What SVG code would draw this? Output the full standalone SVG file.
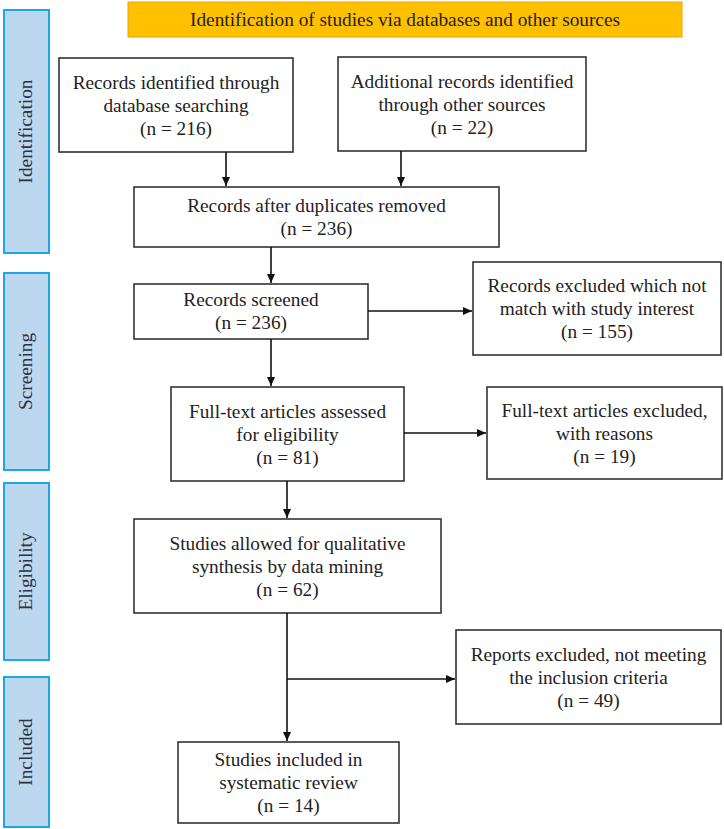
<svg xmlns="http://www.w3.org/2000/svg" width="724" height="829" viewBox="0 0 724 829">
<defs>
<style>
.box{fill:#fff;stroke:#333;stroke-width:1.6}
.side{fill:#BDD7EE;stroke:#1CA6EC;stroke-width:2}
.t{font-family:"Liberation Serif","Times New Roman",serif;font-size:19.3px;fill:#222;text-anchor:middle}
.st{font-family:"Liberation Serif","Times New Roman",serif;font-size:19.3px;fill:#2a3346;text-anchor:middle}
.c{stroke:#111;stroke-width:1.6;fill:none}
</style>
<marker id="ah" markerWidth="10" markerHeight="10" refX="9" refY="5" orient="auto" markerUnits="userSpaceOnUse">
<path d="M0,1 L9,5 L0,9 Z" fill="#111"/>
</marker>
</defs>
<rect width="724" height="829" fill="#fff"/>

<g id="banner">
<rect x="128" y="2" width="554" height="35" fill="#FFC000" stroke="#F0A500" stroke-width="1"/>
<text class="t" x="405" y="26">Identification of studies via databases and other sources</text>
</g>

<g id="side-identification">
<rect class="side" x="4" y="10" width="45" height="243"/>
<text class="st" transform="translate(32,131.5) rotate(-90)">Identification</text>
</g>
<g id="side-screening">
<rect class="side" x="4" y="273" width="45" height="197"/>
<text class="st" transform="translate(32,371.5) rotate(-90)">Screening</text>
</g>
<g id="side-eligibility">
<rect class="side" x="4" y="483" width="45" height="177"/>
<text class="st" transform="translate(32,571.5) rotate(-90)">Eligibility</text>
</g>
<g id="side-included">
<rect class="side" x="4" y="677" width="45" height="150"/>
<text class="st" transform="translate(32,752) rotate(-90)">Included</text>
</g>

<g id="n1">
<rect class="box" x="59" y="58" width="234" height="94"/>
<text class="t" x="176" y="88.5">Records identified through</text>
<text class="t" x="176" y="111.5">database searching</text>
<text class="t" x="176" y="134.5">(n = 216)</text>
</g>
<g id="n2">
<rect class="box" x="338" y="57" width="248" height="94"/>
<text class="t" x="462" y="87.5">Additional records identified</text>
<text class="t" x="462" y="110.5">through other sources</text>
<text class="t" x="462" y="133.5">(n = 22)</text>
</g>
<g id="n3">
<rect class="box" x="134" y="187" width="365" height="60"/>
<text class="t" x="316.5" y="212">Records after duplicates removed</text>
<text class="t" x="316.5" y="235">(n = 236)</text>
</g>
<g id="n4">
<rect class="box" x="134" y="284" width="234" height="55"/>
<text class="t" x="251" y="306">Records screened</text>
<text class="t" x="251" y="329">(n = 236)</text>
</g>
<g id="n5">
<rect class="box" x="473" y="262" width="248" height="93"/>
<text class="t" x="597" y="292">Records excluded which not</text>
<text class="t" x="597" y="315">match with study interest</text>
<text class="t" x="597" y="338">(n = 155)</text>
</g>
<g id="n6">
<rect class="box" x="171" y="387" width="233" height="94"/>
<text class="t" x="287.5" y="417.5">Full-text articles assessed</text>
<text class="t" x="287.5" y="440.5">for eligibility</text>
<text class="t" x="287.5" y="463.5">(n = 81)</text>
</g>
<g id="n7">
<rect class="box" x="487" y="387" width="235" height="92"/>
<text class="t" x="604.5" y="416.5">Full-text articles excluded,</text>
<text class="t" x="604.5" y="439.5">with reasons</text>
<text class="t" x="604.5" y="462.5">(n = 19)</text>
</g>
<g id="n8">
<rect class="box" x="134" y="519" width="307" height="94"/>
<text class="t" x="287.5" y="549.5">Studies allowed for qualitative</text>
<text class="t" x="287.5" y="572.5">synthesis by data mining</text>
<text class="t" x="287.5" y="595.5">(n = 62)</text>
</g>
<g id="n9">
<rect class="box" x="456" y="630" width="265" height="94"/>
<text class="t" x="588.5" y="660.5">Reports excluded, not meeting</text>
<text class="t" x="588.5" y="683.5">the inclusion criteria</text>
<text class="t" x="588.5" y="706.5">(n = 49)</text>
</g>
<g id="n10">
<rect class="box" x="178" y="742" width="221" height="81"/>
<text class="t" x="288.5" y="766">Studies included in</text>
<text class="t" x="288.5" y="789">systematic review</text>
<text class="t" x="288.5" y="812">(n = 14)</text>
</g>

<g id="connectors">
<line class="c" x1="226" y1="152" x2="226" y2="186" marker-end="url(#ah)"/>
<line class="c" x1="401" y1="151" x2="401" y2="186" marker-end="url(#ah)"/>
<line class="c" x1="271" y1="247" x2="271" y2="283" marker-end="url(#ah)"/>
<line class="c" x1="368" y1="311" x2="472" y2="311" marker-end="url(#ah)"/>
<line class="c" x1="271" y1="339" x2="271" y2="386" marker-end="url(#ah)"/>
<line class="c" x1="404" y1="433" x2="486" y2="433" marker-end="url(#ah)"/>
<line class="c" x1="287" y1="481" x2="287" y2="518" marker-end="url(#ah)"/>
<line class="c" x1="287" y1="613" x2="287" y2="741" marker-end="url(#ah)"/>
<line class="c" x1="287" y1="679" x2="455" y2="679" marker-end="url(#ah)"/>
</g>
</svg>
